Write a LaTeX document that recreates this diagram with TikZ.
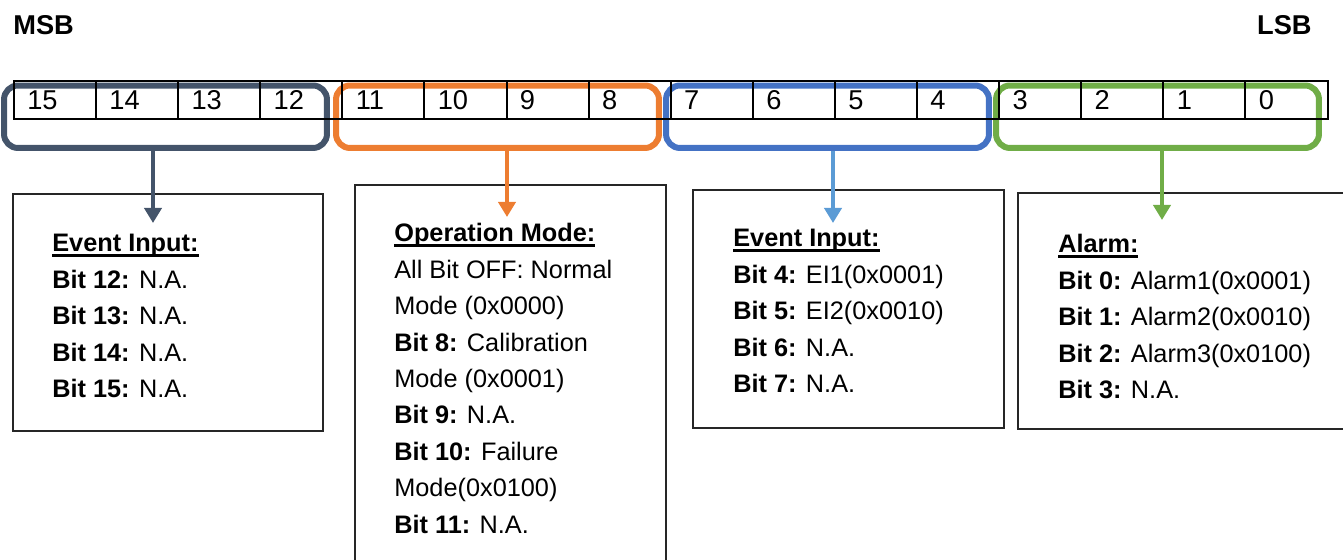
\documentclass[tikz,border=0pt]{standalone}
\usepackage{fontspec}
\setmainfont{Liberation Sans}
\usetikzlibrary{arrows.meta}
\definecolor{grpgray}{HTML}{44546A}
\definecolor{grporange}{HTML}{ED7D31}
\definecolor{grpblue}{HTML}{4472C4}
\definecolor{arrblue}{HTML}{5B9BD5}
\definecolor{grpgreen}{HTML}{70AD47}
\newsavebox{\hdrbox}
\newcommand{\hdr}[1]{\sbox{\hdrbox}{\textbf{#1}}\rlap{\rule[-3.2pt]{\wd\hdrbox}{1.7pt}}\usebox{\hdrbox}}
\begin{document}
\begin{tikzpicture}[x=0.02cm,y=-0.02cm,
  cell/.style={draw,line width=1.1pt,minimum width=1.642cm,minimum height=0.76cm,inner sep=0pt,anchor=north west},
  grp/.style={draw,line width=0.12cm,rounded corners=0.28cm,minimum width=6.46cm,minimum height=1.25cm},
  desc/.style={draw=black!85,line width=1.1pt,anchor=north west,inner sep=0pt},
  txt/.style={anchor=north west,align=left,inner sep=0pt,font=\fontsize{14.4}{20.75}\selectfont},
  arr/.style={line width=0.09cm,-{Triangle[width=0.34cm,length=0.3cm]}}]
  \useasboundingbox (0,0) rectangle (1343,560);
  \node[anchor=west,inner sep=0pt,font=\fontsize{15.5}{18}\selectfont\bfseries] (msb) at (13,25) {MSB};
  \node[anchor=east,inner sep=0pt,font=\fontsize{15.5}{18}\selectfont\bfseries] (lsb) at (1312,25) {LSB};

  % groups of four bits
  \node[grp,draw=grpgray] (g1) at (165.5,116.75) {};
  \node[grp,draw=grporange] (g2) at (497.5,116.75) {};
  \node[grp,draw=grpblue] (g3) at (827.5,116.75) {};
  \node[grp,draw=grpgreen] (g4) at (1157.5,116.75) {};

  \foreach \b [count=\i from 0] in {15,14,...,0}{
    \node[cell] (c\b) at (13+82.1*\i,80) {};
    \node[anchor=west,inner sep=0pt,font=\fontsize{15.5}{18}\selectfont] (n\b) at ([xshift=0.28cm]c\b.west) {\b};
  }

  \node[desc,minimum width=6.2cm,minimum height=4.74cm] (d1) at (12,193) {};
  \node[desc,minimum width=6.22cm,minimum height=8.4cm] (d2) at (354,184) {};
  \node[desc,minimum width=6.22cm,minimum height=4.76cm] (d3) at (692,189) {};
  \node[desc,minimum width=6.8cm,minimum height=4.72cm] (d4) at (1017,192) {};

  \node[txt] (t1) at (52,234) {\hdr{Event Input:}\\
    \textbf{Bit 12:} N.A.\\ \textbf{Bit 13:} N.A.\\ \textbf{Bit 14:} N.A.\\ \textbf{Bit 15:} N.A.};
  \node[txt] (t2) at (394,223) {\hdr{Operation Mode:}\\
    All Bit OFF: Normal\\ Mode (0x0000)\\ \textbf{Bit 8:} Calibration\\ Mode (0x0001)\\
    \textbf{Bit 9:} N.A.\\ \textbf{Bit 10:} Failure\\ Mode(0x0100)\\ \textbf{Bit 11:} N.A.};
  \node[txt] (t3) at (733,229) {\hdr{Event Input:}\\
    \textbf{Bit 4:} EI1(0x0001)\\ \textbf{Bit 5:} EI2(0x0010)\\ \textbf{Bit 6:} N.A.\\ \textbf{Bit 7:} N.A.};
  \node[txt] (t4) at (1058,234) {\hdr{Alarm:}\\
    \textbf{Bit 0:} Alarm1(0x0001)\\ \textbf{Bit 1:} Alarm2(0x0010)\\ \textbf{Bit 2:} Alarm3(0x0100)\\ \textbf{Bit 3:} N.A.};

  \coordinate (p1) at (153,223);
  \coordinate (p2) at (507,217);
  \coordinate (p3) at (833,223);
  \coordinate (p4) at (1162,220);
  \draw[arr,grpgray] (g1.south -| p1) -- (p1);
  \draw[arr,grporange] (g2.south -| p2) -- (p2);
  \draw[arr,arrblue] (g3.south -| p3) -- (p3);
  \draw[arr,grpgreen] (g4.south -| p4) -- (p4);
\end{tikzpicture}
\end{document}
